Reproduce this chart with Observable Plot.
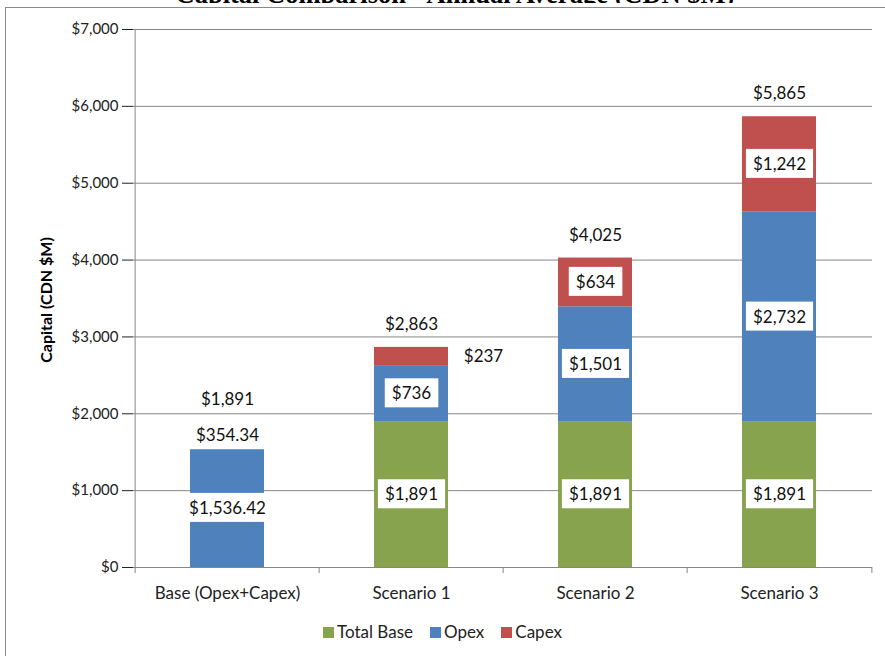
<!DOCTYPE html>
<html>
<head>
<meta charset="utf-8">
<script src="https://cdn.jsdelivr.net/npm/d3@7"></script>
<script src="https://cdn.jsdelivr.net/npm/@observablehq/plot@0.6"></script>
<style>
  html, body { margin: 0; padding: 0; background: #fff; }
  body { width: 885px; height: 656px; position: relative; overflow: hidden; font-family: Lato, "Open Sans", sans-serif; color: #222; }
  #frame { position: absolute; left: 5px; top: 7px; width: 900px; height: 700px; border: 1px solid #8a8a8a; }
  #titleClip { position: absolute; left: 0; top: 0; width: 885px; height: 3px; overflow: hidden; }
  #title { position: absolute; left: 0; width: 910px; top: -19px; text-align: center; font-family: "Liberation Serif", "DejaVu Serif", serif; font-weight: bold; font-size: 26.5px; line-height: 26px; color: #000; white-space: nowrap; }
  #chart { position: absolute; left: 0; top: 0; }
  #ylabel { position: absolute; left: 45px; top: 300px; transform: translate(-50%, -50%) rotate(-90deg); font-weight: bold; font-size: 16px; color: #000; white-space: nowrap; }
  #legend { position: absolute; left: 0; width: 885px; top: 621px; display: flex; justify-content: center; gap: 17px; font-size: 17px; line-height: 22px; }
  #legend span.item { display: flex; align-items: center; }
  #legend span.sw { width: 11px; height: 11px; display: inline-block; margin-right: 3px; }
</style>
</head>
<body>
<div id="frame"></div>
<div id="titleClip"><div id="title">Capital Comparison - Annual Average (CDN $M)</div></div>
<div id="chart"></div>
<div id="ylabel">Capital (CDN $M)</div>
<div id="legend"></div>
<script>
const categories = ["Base (Opex+Capex)", "Scenario 1", "Scenario 2", "Scenario 3"];
const totalBase = [0, 1891, 1891, 1891];
const opex = [1536.42, 736, 1501, 2732];
const capex = [354.34, 237, 634, 1242];
const totals = [1891, 2863, 4025, 5865];
const totalBaseLabels = ["", "$1,891", "$1,891", "$1,891"];
const opexLabels = ["$1,536.42", "$736", "$1,501", "$2,732"];
const capexLabels = ["$354.34", "$237", "$634", "$1,242"];
const totalLabels = ["$1,891", "$2,863", "$4,025", "$5,865"];
const yTicks = [0, 1000, 2000, 3000, 4000, 5000, 6000, 7000];
const seriesNames = ["Total Base", "Opex", "Capex"];
const seriesColors = ["#88A34E", "#4F81BD", "#C0504D"];
const outsideLabel = "Scenario 1|Capex";

// build stacked segments
const segments = [];
categories.forEach((c, i) => {
  const vals = [totalBase[i], opex[i], capex[i]];
  const labs = [totalBaseLabels[i], opexLabels[i], capexLabels[i]];
  let acc = 0;
  vals.forEach((v, k) => {
    segments.push({cat: c, series: seriesNames[k], y1: acc, y2: acc + v, mid: acc + v / 2, label: labs[k], value: v});
    acc += v;
  });
});
const barSegs = segments.filter(d => d.value > 0);
const inLabels = barSegs.filter(d => d.label && (d.cat + "|" + d.series) !== outsideLabel);
const outLabels = barSegs.filter(d => (d.cat + "|" + d.series) === outsideLabel);
const totalRows = categories.map((c, i) => ({cat: c, total: totals[i], label: totalLabels[i]}));

const W = 885, H = 656, ML = 133, MR = 13, MT = 29, MB = 89;
const step = (W - ML - MR) / categories.length;

const plot = Plot.plot({
  width: W,
  height: H,
  marginLeft: ML,
  marginRight: MR,
  marginTop: MT,
  marginBottom: MB,
  style: {fontFamily: "Lato, 'Open Sans', sans-serif", fontSize: "15px", color: "#222", background: "transparent", overflow: "visible"},
  x: {domain: categories, paddingInner: 0.6, paddingOuter: 0.3, tickSize: 0, tickPadding: 19, label: null},
  y: {domain: [0, 7000], ticks: yTicks, tickFormat: d3.format("$,"), tickSize: 11, tickPadding: 4, label: null},
  color: {domain: seriesNames, range: seriesColors},
  marks: [
    Plot.ruleY(yTicks, {y: d => d, stroke: "#868686", strokeWidth: 1}),
    Plot.ruleX([categories[0]], {x: d => d, y1: 0, y2: 7000, dx: -step / 2, stroke: "#868686"}),
    Plot.barY(barSegs, {x: "cat", y1: "y1", y2: "y2", fill: "series"}),
    Plot.ruleX(categories, {x: d => d, y1: 0, y2: 0, insetBottom: -6, dx: -step / 2, stroke: "#868686"}),
    Plot.ruleX([categories[categories.length - 1]], {x: d => d, y1: 0, y2: 0, insetBottom: -6, dx: step / 2, stroke: "#868686"}),
    Plot.text(inLabels, {x: "cat", y: "mid", text: "label", fontSize: 17, fill: "#111"}),
    Plot.text(outLabels, {x: "cat", y: "mid", text: "label", fontSize: 17, fill: "#111", dx: 72}),
    Plot.text(totalRows, {x: "cat", y: "total", text: "label", fontSize: 17, fill: "#111", dy: -23})
  ]
});
document.getElementById("chart").appendChild(plot);

// x tick label font size
plot.querySelectorAll('g[aria-label="x-axis tick label"] text, g[aria-label="x-axis"] text').forEach(t => t.setAttribute("font-size", 17));

// white boxes behind boxed labels
const textGroups = plot.querySelectorAll('g[aria-label="text"]');
[textGroups[0], textGroups[1]].forEach(g => {
  if (!g) return;
  g.querySelectorAll("text").forEach(t => {
    const bb = t.getBBox();
    const padX = 7, padY = 4;
    const r = document.createElementNS("http://www.w3.org/2000/svg", "rect");
    r.setAttribute("x", bb.x - padX);
    r.setAttribute("y", bb.y - padY);
    r.setAttribute("width", bb.width + 2 * padX);
    r.setAttribute("height", bb.height + 2 * padY);
    r.setAttribute("fill", "#fff");
    const tr = t.getAttribute("transform");
    if (tr) r.setAttribute("transform", tr);
    t.parentNode.insertBefore(r, t);
  });
});

// legend
const legend = document.getElementById("legend");
seriesNames.forEach((s, i) => {
  const item = document.createElement("span");
  item.className = "item";
  const sw = document.createElement("span");
  sw.className = "sw";
  sw.style.background = seriesColors[i];
  item.appendChild(sw);
  item.appendChild(document.createTextNode(s));
  legend.appendChild(item);
});
</script>
</body>
</html>
